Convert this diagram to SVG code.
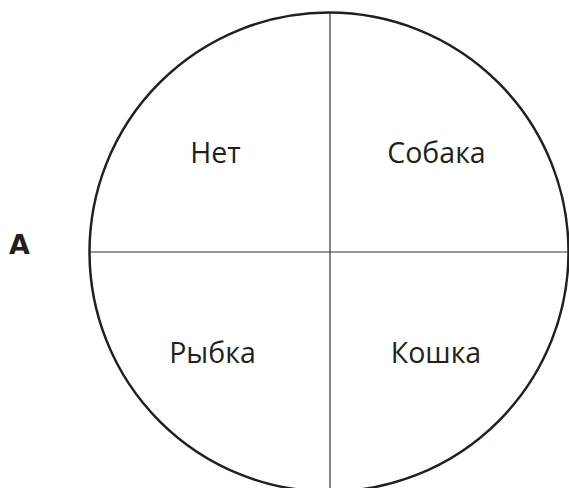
<svg xmlns="http://www.w3.org/2000/svg" width="569" height="488" viewBox="0 0 569 488">
<style>
.lbl{font-family:"Open Sans","Noto Sans","Liberation Sans",sans-serif;font-size:28.5px;fill:#231f20;text-anchor:middle}
.ttl{font-family:"DejaVu Sans","Liberation Sans",sans-serif;font-size:27px;font-weight:bold;fill:#231f20}
.div{stroke:#333;stroke-width:1.2;fill:none}
</style>
<rect width="569" height="488" fill="#fff"/>
<g id="circle"><circle cx="329" cy="252" r="239.5" fill="none" stroke="#231f20" stroke-width="2.5"/></g>
<g id="connectors">
<line class="div" x1="330" y1="13" x2="330" y2="488"/>
<line class="div" x1="90" y1="252" x2="568" y2="252"/>
</g>
<g id="title"><text class="ttl" x="9" y="254">А</text></g>
<g id="net"><text class="lbl" x="215.5" y="163">Нет</text></g>
<g id="sobaka"><text class="lbl" x="436.5" y="163">Собака</text></g>
<g id="rybka"><text class="lbl" x="212.5" y="363">Рыбка</text></g>
<g id="koshka"><text class="lbl" x="436" y="363">Кошка</text></g>
</svg>
